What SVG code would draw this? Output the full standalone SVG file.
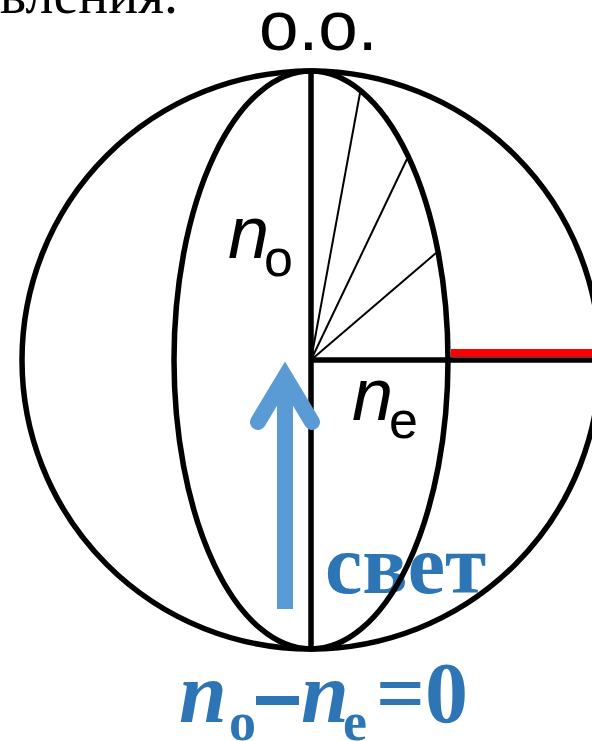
<svg xmlns="http://www.w3.org/2000/svg" width="592" height="741" viewBox="0 0 592 741">
<style>
.thick{fill:none;stroke:#000;stroke-width:5.5}
.thin{fill:none;stroke:#000;stroke-width:2}
.sans{font-family:"Liberation Sans",Arial,sans-serif;fill:#000}
.blue{font-family:"Liberation Serif","Times New Roman",serif;fill:#2e75b6;font-weight:bold}
</style>
<rect width="592" height="741" fill="#fff"/>
<text x="178" y="13" font-family="Liberation Serif,'Times New Roman',serif" font-size="56" text-anchor="end" fill="#000">направления.</text>
<g id="label-oo"><text class="sans" x="259" y="50" font-size="71">o.o.</text></g>
<g id="label-svet"><text class="blue" x="325" y="593" font-size="84">свет</text></g>
<g id="sphere">
<circle class="thick" cx="311" cy="360" r="289"/>
<ellipse class="thick" cx="311" cy="360" rx="137" ry="289"/>
<line class="thick" x1="311" y1="71" x2="311" y2="649"/>
<line class="thick" x1="311" y1="360" x2="592" y2="360"/>
<rect x="451" y="349" width="141" height="8" fill="#ff0000"/>
</g>
<g id="connectors">
<line class="thin" x1="311" y1="360" x2="360" y2="93"/>
<line class="thin" x1="311" y1="360" x2="407" y2="159"/>
<line class="thin" x1="311" y1="360" x2="436" y2="253"/>
</g>
<g id="label-no"><text class="sans" x="228" y="258" font-size="74" font-style="italic">n</text><text class="sans" x="264" y="276" font-size="52">o</text></g>
<g id="label-ne"><text class="sans" x="352" y="420" font-size="74" font-style="italic">n</text><text class="sans" x="389" y="438" font-size="52">e</text></g>
<g id="arrow">
<line x1="285" y1="609" x2="285" y2="390" stroke="#5b9bd5" stroke-width="16"/>
<polyline points="258,422 285,377 312,422" fill="none" stroke="#5b9bd5" stroke-width="16" stroke-linecap="round" stroke-linejoin="miter"/>
</g>
<g id="formula">
<text class="blue" x="179" y="722" font-size="86" font-style="italic">n</text>
<text class="blue" x="229" y="740" font-size="54">o</text>
<rect x="256" y="696" width="43" height="9" fill="#2e75b6"/>
<text class="blue" x="301" y="722" font-size="86" font-style="italic">n</text>
<text class="blue" x="343" y="740" font-size="54">e</text>
<text class="blue" x="376" y="722" font-size="86">=0</text>
</g>
</svg>
